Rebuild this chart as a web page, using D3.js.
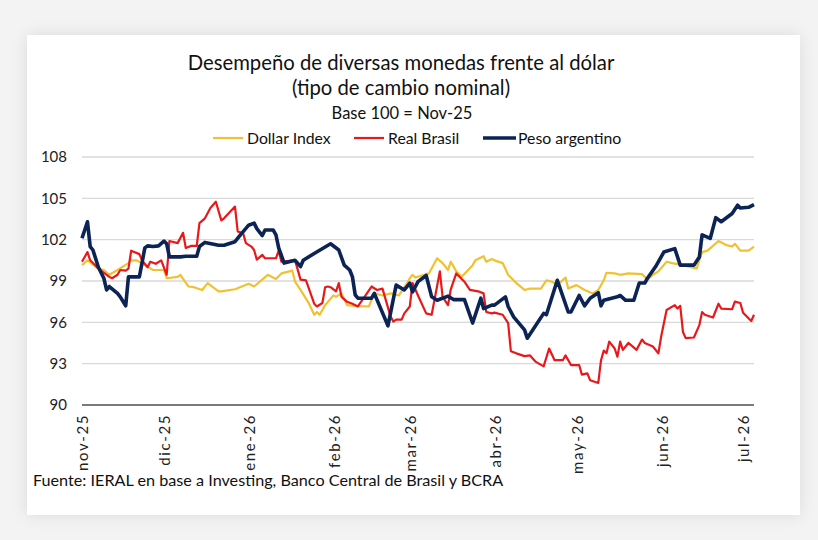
<!DOCTYPE html>
<html>
<head>
<meta charset="utf-8">
<script src="https://cdn.jsdelivr.net/npm/d3@7"></script>
<style>
body { margin:0; background:#f3f3f3; font-family: Lato, sans-serif; }
#card { position:absolute; left:27px; top:35px; width:773px; height:480px; background:#fff; box-shadow:0 0 16px rgba(0,0,0,0.10); }
#chart { position:absolute; left:0; top:0; }
</style>
</head>
<body>
<div id="card"></div>
<svg id="chart" width="818" height="540"></svg>
<script>
// valores (base 100 = nov-25)
var dollar_index = [
  ["2025-11-01",100.15],["2025-11-03",100.5],["2025-11-07",99.9],["2025-11-09",99.8],["2025-11-11",99.45],
  ["2025-11-14",99.8],["2025-11-18",100.3],["2025-11-19",100.5],["2025-11-21",100.5],["2025-11-24",100.15],
  ["2025-11-27",99.8],["2025-12-01",99.8],["2025-12-02",99.2],["2025-12-06",99.3],["2025-12-07",99.45],
  ["2025-12-10",98.6],["2025-12-12",98.55],["2025-12-15",98.35],["2025-12-17",98.85],["2025-12-21",98.25],
  ["2025-12-22",98.25],["2025-12-27",98.4],["2026-01-01",98.8],["2026-01-03",98.6],["2026-01-08",99.45],
  ["2026-01-11",99.15],["2026-01-13",99.55],["2026-01-17",99.75],["2026-01-18",98.95],["2026-01-20",98.35],
  ["2026-01-23",97.4],["2026-01-25",96.55],["2026-01-26",96.75],["2026-01-27",96.55],["2026-01-29",97.25],
  ["2026-02-01",97.95],["2026-02-02",97.85],["2026-02-04",98.1],["2026-02-06",97.25],["2026-02-09",97.2],
  ["2026-02-14",97.15],["2026-02-16",98.1],["2026-02-19",97.95],["2026-02-22",98.1],["2026-02-25",97.95],
  ["2026-02-28",98.85],["2026-03-01",99.2],["2026-03-02",99.45],["2026-03-03",99.25],["2026-03-08",99.55],
  ["2026-03-11",100.65],["2026-03-13",100.3],["2026-03-15",99.8],["2026-03-16",100.4],["2026-03-18",99.7],
  ["2026-03-20",99.3],["2026-03-24",100.15],["2026-03-25",100.5],["2026-03-28",100.8],["2026-03-29",100.4],
  ["2026-03-31",100.6],["2026-04-01",100.5],["2026-04-04",100.3],["2026-04-06",99.45],["2026-04-09",98.85],
  ["2026-04-12",98.35],["2026-04-14",98.45],["2026-04-18",98.45],["2026-04-20",99.05],["2026-04-22",98.95],
  ["2026-04-24",98.7],["2026-04-27",99.25],["2026-04-28",98.45],["2026-05-01",98.7],["2026-05-04",98.35],
  ["2026-05-07",98.1],["2026-05-09",98.35],["2026-05-11",99.05],["2026-05-12",99.6],["2026-05-15",99.55],
  ["2026-05-17",99.45],["2026-05-20",99.55],["2026-05-25",99.5],["2026-05-27",99.1],["2026-05-29",99.45],
  ["2026-05-31",99.7],["2026-06-03",100.4],["2026-06-05",100.3],["2026-06-09",100.15],["2026-06-14",99.9],
  ["2026-06-16",101.1],["2026-06-18",101.2],["2026-06-22",101.9],["2026-06-25",101.6],["2026-06-27",101.5],
  ["2026-06-28",101.7],["2026-06-30",101.2],["2026-07-03",101.2],["2026-07-05",101.5]
];
var real_brasil = [
  ["2025-11-01",100.4],["2025-11-03",101.1],["2025-11-04",100.5],["2025-11-07",99.9],["2025-11-11",99.3],
  ["2025-11-12",99.2],["2025-11-14",99.45],["2025-11-15",99.8],["2025-11-17",99.75],["2025-11-18",99.9],
  ["2025-11-19",101.2],["2025-11-22",100.95],["2025-11-23",100.5],["2025-11-25",100.0],["2025-11-26",100.4],
  ["2025-11-28",100.25],["2025-11-30",100.5],["2025-12-02",99.45],["2025-12-03",101.9],["2025-12-06",101.75],
  ["2025-12-08",102.5],["2025-12-09",101.4],["2025-12-11",101.55],["2025-12-13",101.55],["2025-12-14",103.2],
  ["2025-12-16",103.55],["2025-12-18",104.3],["2025-12-20",104.75],["2025-12-22",103.4],["2025-12-23",103.55],
  ["2025-12-27",104.4],["2025-12-28",102.6],["2025-12-30",102.45],["2025-12-31",101.75],["2026-01-02",101.5],
  ["2026-01-03",101.25],["2026-01-04",100.55],["2026-01-06",100.9],["2026-01-07",100.65],["2026-01-11",100.65],
  ["2026-01-12",101.2],["2026-01-13",100.4],["2026-01-18",100.5],["2026-01-20",99.1],["2026-01-22",99.05],
  ["2026-01-25",97.35],["2026-01-26",97.15],["2026-01-28",97.4],["2026-01-29",98.55],["2026-01-30",98.6],
  ["2026-01-31",98.55],["2026-02-02",98.25],["2026-02-03",98.85],["2026-02-04",97.85],["2026-02-06",97.5],
  ["2026-02-08",97.35],["2026-02-10",97.15],["2026-02-15",98.6],["2026-02-17",98.35],["2026-02-19",98.45],
  ["2026-02-22",96.4],["2026-02-23",96.05],["2026-02-24",96.2],["2026-02-26",96.2],["2026-02-27",96.65],
  ["2026-03-01",97.15],["2026-03-02",98.85],["2026-03-04",97.95],["2026-03-07",96.65],["2026-03-09",96.55],
  ["2026-03-12",99.7],["2026-03-13",97.85],["2026-03-15",97.25],["2026-03-16",98.4],["2026-03-18",99.55],
  ["2026-03-21",98.95],["2026-03-23",98.35],["2026-03-26",98.25],["2026-03-28",98.1],["2026-03-29",96.75],
  ["2026-03-31",96.65],["2026-04-01",96.7],["2026-04-04",96.55],["2026-04-06",95.95],["2026-04-07",93.9],
  ["2026-04-09",93.75],["2026-04-12",93.55],["2026-04-14",93.6],["2026-04-16",93.15],["2026-04-19",92.8],
  ["2026-04-21",94.1],["2026-04-23",93.25],["2026-04-26",93.25],["2026-04-27",93.6],["2026-04-29",92.9],
  ["2026-05-02",92.9],["2026-05-03",92.2],["2026-05-05",92.3],["2026-05-06",91.8],["2026-05-09",91.6],
  ["2026-05-10",93.25],["2026-05-11",93.95],["2026-05-12",93.75],["2026-05-13",94.6],["2026-05-15",94.1],
  ["2026-05-16",93.5],["2026-05-17",94.6],["2026-05-18",94.0],["2026-05-20",94.5],["2026-05-21",94.35],
  ["2026-05-23",94.0],["2026-05-25",94.75],["2026-05-26",94.5],["2026-05-29",94.25],["2026-05-31",93.75],
  ["2026-06-01",94.95],["2026-06-03",96.9],["2026-06-06",97.25],["2026-06-07",97.0],["2026-06-08",97.2],
  ["2026-06-09",95.3],["2026-06-10",94.85],["2026-06-13",94.9],["2026-06-15",95.8],["2026-06-16",96.75],
  ["2026-06-17",96.55],["2026-06-20",96.35],["2026-06-22",97.35],["2026-06-23",97.0],["2026-06-27",96.95],
  ["2026-06-28",97.5],["2026-06-30",97.4],["2026-07-01",96.7],["2026-07-04",96.1],["2026-07-05",96.55]
];
var peso_argentino = [
  ["2025-11-01",102.1],["2025-11-03",103.3],["2025-11-04",101.5],["2025-11-05",101.25],["2025-11-07",100.0],
  ["2025-11-09",99.2],["2025-11-10",98.35],["2025-11-11",98.6],["2025-11-14",98.1],["2025-11-15",97.85],
  ["2025-11-17",97.2],["2025-11-18",99.3],["2025-11-22",99.3],["2025-11-24",101.4],["2025-11-25",101.55],
  ["2025-11-27",101.5],["2025-11-29",101.55],["2025-12-01",101.9],["2025-12-02",101.7],["2025-12-03",100.75],
  ["2025-12-07",100.75],["2025-12-09",100.8],["2025-12-13",100.8],["2025-12-14",101.5],["2025-12-16",101.8],
  ["2025-12-21",101.6],["2025-12-23",101.6],["2025-12-27",101.85],["2025-12-29",102.35],["2026-01-01",103.05],
  ["2026-01-03",103.2],["2026-01-04",102.8],["2026-01-06",102.3],["2026-01-07",102.7],["2026-01-10",102.7],
  ["2026-01-11",102.35],["2026-01-12",101.4],["2026-01-14",100.3],["2026-01-18",100.5],["2026-01-20",100.05],
  ["2026-01-21",100.5],["2026-01-25",101.0],["2026-01-31",101.7],["2026-02-03",101.25],["2026-02-05",100.15],
  ["2026-02-07",99.8],["2026-02-08",99.3],["2026-02-09",98.0],["2026-02-10",97.75],["2026-02-15",97.75],
  ["2026-02-16",98.1],["2026-02-21",95.75],["2026-02-24",98.7],["2026-02-27",98.35],["2026-03-01",98.85],
  ["2026-03-02",98.2],["2026-03-04",98.95],["2026-03-07",99.4],["2026-03-09",97.85],["2026-03-11",97.6],
  ["2026-03-15",97.9],["2026-03-17",97.65],["2026-03-21",97.65],["2026-03-24",95.95],["2026-03-27",97.75],
  ["2026-03-28",97.0],["2026-03-31",97.25],["2026-04-01",97.25],["2026-04-05",97.85],["2026-04-06",97.15],
  ["2026-04-08",96.4],["2026-04-12",95.45],["2026-04-13",94.85],["2026-04-15",95.45],["2026-04-19",96.65],
  ["2026-04-20",96.55],["2026-04-24",99.05],["2026-04-28",96.75],["2026-04-29",96.75],["2026-05-02",97.95],
  ["2026-05-04",97.2],["2026-05-06",97.75],["2026-05-09",98.15],["2026-05-10",97.2],["2026-05-11",97.6],
  ["2026-05-16",97.85],["2026-05-17",97.95],["2026-05-19",97.6],["2026-05-22",97.6],["2026-05-24",98.85],
  ["2026-05-26",98.85],["2026-05-27",99.2],["2026-05-30",100.05],["2026-06-02",101.1],["2026-06-06",101.35],
  ["2026-06-08",100.15],["2026-06-13",100.15],["2026-06-15",100.75],["2026-06-16",102.35],["2026-06-19",102.1],
  ["2026-06-21",103.6],["2026-06-23",103.3],["2026-06-27",103.9],["2026-06-29",104.5],["2026-06-30",104.3],
  ["2026-07-03",104.35],["2026-07-05",104.55]
];
var series_names = ["Dollar Index","Real Brasil","Peso argentino"];
var series_colors = ["#f2c131","#e8191c","#0c2356"];
var y_ticks = [90,93,96,99,102,105,108];
var x_tick_dates = ["2025-11-01","2025-12-01","2026-01-01","2026-02-01","2026-03-01","2026-04-01","2026-05-01","2026-06-01","2026-07-01"];
var x_tick_labels = ["nov-25","dic-25","ene-26","feb-26","mar-26","abr-26","may-26","jun-26","jul-26"];

var parseDate = d3.timeParse("%Y-%m-%d");
var svg = d3.select("#chart");

var x = d3.scaleTime()
  .domain([parseDate("2025-11-01"), parseDate("2026-07-05")])
  .range([82,754]);
var y = d3.scaleLinear()
  .domain([90,108])
  .range([405,157]);

// titulo
svg.append("text").attr("x",401).attr("y",70).attr("text-anchor","middle")
  .style("font-size","20.3px").attr("fill","#111")
  .text("Desempeño de diversas monedas frente al dólar");
svg.append("text").attr("x",401).attr("y",95).attr("text-anchor","middle")
  .style("font-size","20.3px").attr("fill","#111")
  .text("(tipo de cambio nominal)");
svg.append("text").attr("x",402).attr("y",119).attr("text-anchor","middle")
  .style("font-size","16.5px").attr("fill","#111")
  .text("Base 100 = Nov-25");

// leyenda
var legendX = [213,354,483];
var legend = svg.selectAll(".legend").data(series_names).enter()
  .append("g").attr("class","legend")
  .attr("transform",function(d,i){return "translate("+legendX[i]+",138)";});
legend.append("line").attr("x1",0).attr("x2",function(d,i){return i==2?33:30;})
  .attr("stroke",function(d,i){return series_colors[i];})
  .attr("stroke-width",function(d,i){return i==2?3.5:2.2;});
legend.append("text").attr("x",function(d,i){return i==2?35:34;}).attr("y",5.5)
  .style("font-size","15.8px").attr("fill","#111")
  .text(function(d){return d;});

// grilla y eje y
svg.append("g").selectAll("line").data(y_ticks.slice(1)).enter()
  .append("line")
  .attr("x1",82).attr("x2",754)
  .attr("y1",function(d){return y(d);}).attr("y2",function(d){return y(d);})
  .attr("stroke","#d9d9d9").attr("stroke-width",1.3);

var yAxis = svg.append("g").attr("transform","translate(70,0)")
  .call(d3.axisLeft(y).tickValues(y_ticks).tickSize(0).tickPadding(3));
yAxis.select(".domain").remove();
yAxis.selectAll("text").style("font-size","15px").style("font-family","Lato, sans-serif").attr("fill","#222");

// eje x
svg.append("line").attr("x1",82).attr("x2",754).attr("y1",y(90)).attr("y2",y(90))
  .attr("stroke","#7a7a7a").attr("stroke-width",1.8);

svg.append("g").selectAll("text").data(x_tick_dates).enter()
  .append("text")
  .attr("transform",function(d){return "translate("+(x(parseDate(d))+1)+",414) rotate(-90)";})
  .attr("text-anchor","end").attr("dy","0.36em")
  .style("font-size","15px").style("letter-spacing","1.6px").attr("fill","#222")
  .text(function(d,i){return x_tick_labels[i];});

// lineas
var line = d3.line()
  .x(function(d){return x(parseDate(d[0]));})
  .y(function(d){return y(d[1]);});

var all_series = [dollar_index, real_brasil, peso_argentino];
var widths = [2.2,2.2,3.6];
svg.append("g").selectAll("path").data(all_series).enter()
  .append("path")
  .attr("d",line)
  .attr("fill","none")
  .attr("stroke",function(d,i){return series_colors[i];})
  .attr("stroke-width",function(d,i){return widths[i];})
  .attr("stroke-linejoin","round");

// fuente
svg.append("text").attr("x",33).attr("y",486)
  .style("font-size","16.2px").attr("fill","#111")
  .text("Fuente: IERAL en base a Investing, Banco Central de Brasil y BCRA");
</script>
</body>
</html>
